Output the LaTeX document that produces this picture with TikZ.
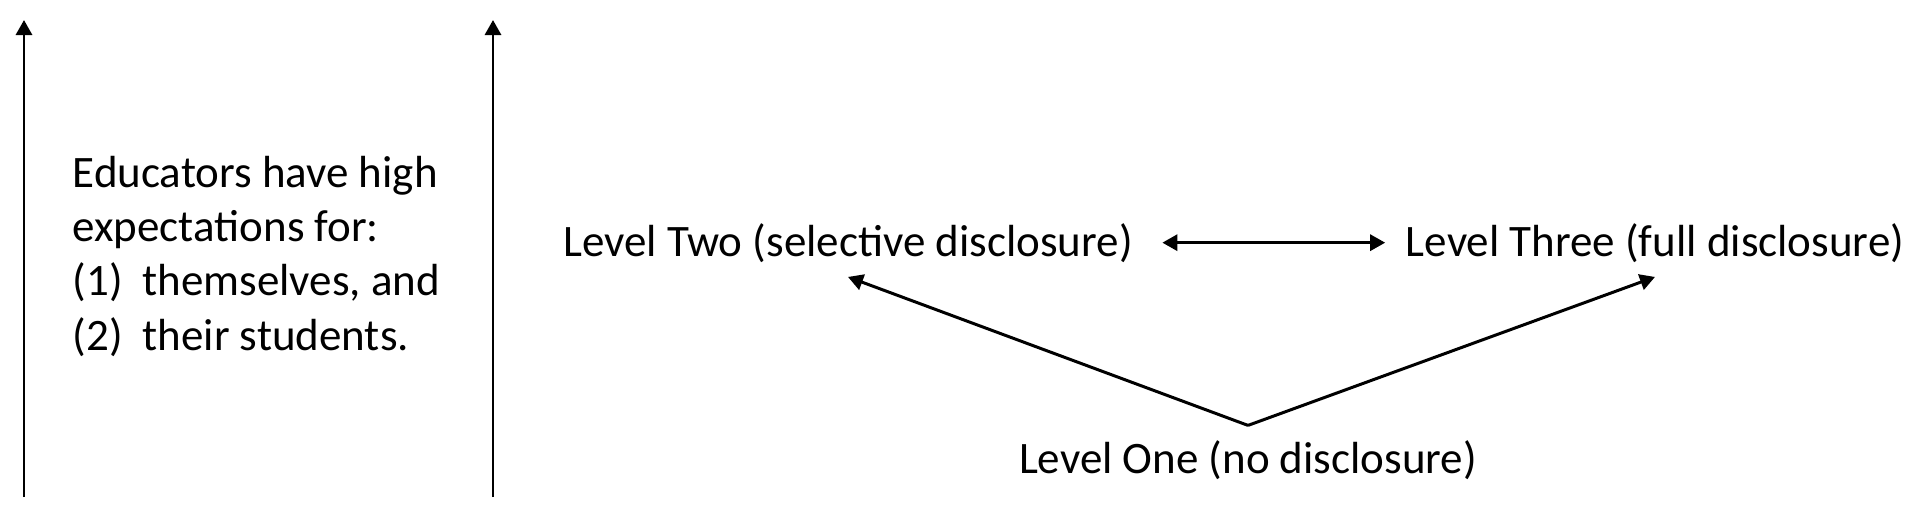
\documentclass[tikz,border=0pt]{standalone}
\usepackage{fontspec}
\setmainfont{Carlito}
\usepackage{tikz}
\usetikzlibrary{
  arrows.meta,
  calc
}
\definecolor{labelcolor}{RGB}{0, 0, 0}
\definecolor{arrowcolor}{RGB}{0, 0, 0}
\tikzset{
leveltext/.style={
  font=\fontsize{12.8}{15.4}\selectfont,
  text=labelcolor,
  inner sep=1.4mm,
  anchor=base
},
notetext/.style={
  font=\fontsize{12.8}{15.4}\selectfont,
  text=labelcolor,
  align=left,
  inner sep=0pt,
  anchor=base west
},
arrow/.style={
  -{Triangle[length=1.5mm,width=1.6mm]},
  line width=0.85pt,
  draw=arrowcolor
},
dblarrow/.style={
  arrow,
  {Triangle[length=1.5mm,width=1.6mm]}-{Triangle[length=1.5mm,width=1.6mm]}
}
}

\begin{document}
\begin{tikzpicture}[x=0.1mm,y=-0.1mm]
        \useasboundingbox (0,0) rectangle (1920,510);
        % scale arrows
        \coordinate (axisAbot) at (24,497);
        \coordinate (axisAtop) at (24,20);
        \coordinate (axisBbot) at (493,497);
        \coordinate (axisBtop) at (493,20);
        \draw[arrow] (axisAbot) -- (axisAtop);
        \draw[arrow] (axisBbot) -- (axisBtop);
        \node[notetext] (note) at (72,350) {
          Educators have high\\
          expectations for:\\
          \makebox[7mm][l]{(1)}themselves, and\\
          \makebox[7mm][l]{(2)}their students.
        };
        % disclosure levels
        \node[leveltext] (levTwo) at (848,256) {Level Two (selective disclosure)};
        \node[leveltext] (levThree) at (1655,256) {Level Three (full disclosure)};
        \node[leveltext] (levOne) at (1248,473) {Level One (no disclosure)};
        \draw[dblarrow, shorten <=1.5mm, shorten >=0.6mm] (levTwo.east) -- (levThree.west);
        \draw[arrow] (levOne.north) -- (levTwo.south);
        \draw[arrow] (levOne.north) -- (levThree.south);
      \end{tikzpicture}
\end{document}
